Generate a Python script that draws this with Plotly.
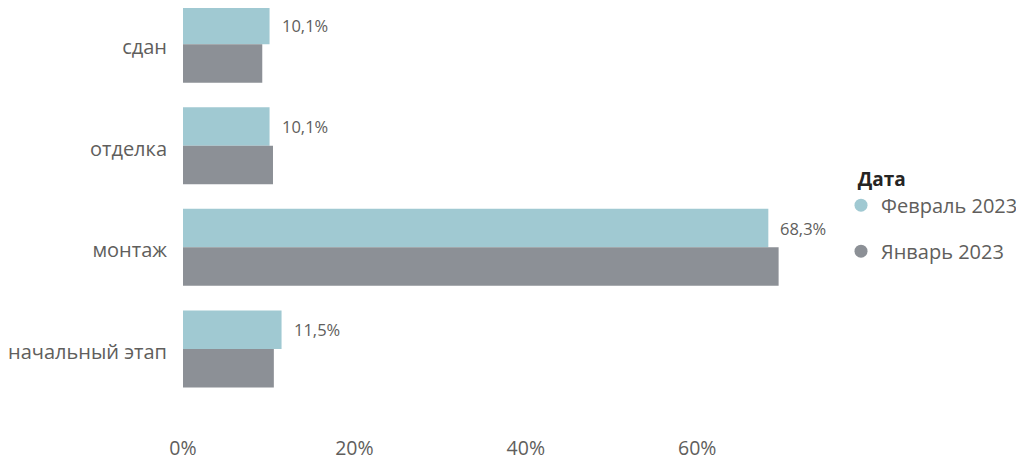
import plotly.graph_objects as go

categories = ["сдан", "отделка", "монтаж", "начальный этап"]
feb_values = [10.1, 10.1, 68.3, 11.5]
jan_values = [9.25, 10.5, 69.5, 10.6]
series_names = ["Февраль 2023", "Январь 2023"]
tick_vals = [0, 20, 40, 60]
tick_text = ["0%", "20%", "40%", "60%"]

feb_color = "#A0C9D2"
jan_color = "#8C9096"
text_color = "#605E5C"
font_family = "Open Sans, Noto Sans, sans-serif"

fig = go.Figure()
fig.add_trace(go.Bar(
    y=categories, x=feb_values, orientation="h", name=series_names[0],
    marker=dict(color=feb_color, line=dict(width=0)), showlegend=False,
))
fig.add_trace(go.Bar(
    y=categories, x=jan_values, orientation="h", name=series_names[1],
    marker=dict(color=jan_color, line=dict(width=0)), showlegend=False,
))
# legend entries with circle markers
for name, col in zip(series_names, [feb_color, jan_color]):
    fig.add_trace(go.Scatter(
        x=[None], y=[None], mode="markers", name=name, legendgroup=name,
        marker=dict(color=col, size=13, symbol="circle"), showlegend=True,
    ))

# data labels for the February series
for cat, v in zip(categories, feb_values):
    fig.add_annotation(
        x=v, y=cat, xref="x", yref="y", xanchor="left", yanchor="middle",
        text=f"{v:.1f}".replace(".", ",") + "%", showarrow=False,
        xshift=10, yshift=19,
        font=dict(size=16.5, color=text_color, family=font_family),
    )

# the page body has an 8px margin: compensate so the plot lands at the target pixels
body = 8
plot_left = 183
plot_right = 800
plot_top = 8
plot_bottom = 432
px_per_unit = 8.57
xmax = (plot_right - plot_left) / px_per_unit
ytop = (plot_top - 44.2) / 101.57
ybot = (plot_bottom - 44.2) / 101.57

fig.update_layout(
    width=1024, height=468,
    margin=dict(l=plot_left - body, r=1024 - (plot_right - body),
                t=plot_top - body, b=468 - (plot_bottom - body)),
    paper_bgcolor="white", plot_bgcolor="white",
    barmode="group", bargap=0.242, bargroupgap=0,
    font=dict(family=font_family, color=text_color, size=18),
    xaxis=dict(range=[0, xmax], tickvals=tick_vals, ticktext=tick_text,
               showgrid=False, zeroline=False, showline=False, automargin=False,
               ticklabelstandoff=2,
               tickfont=dict(size=19.5, color=text_color), ticks=""),
    yaxis=dict(range=[ybot, ytop], showgrid=False, zeroline=False,
               showline=False, ticks="", ticklabelstandoff=15, automargin=False,
               ticklabelshift=-3,
               tickfont=dict(size=20, color=text_color)),
    legend=dict(x=(841 - plot_left) / (plot_right - plot_left), xanchor="left",
                y=1 - (161 - plot_top) / (plot_bottom - plot_top), yanchor="top",
                title=dict(text="\u00a0\u00a0\u00a0<b>Дата</b>",
                           font=dict(size=19, color="#252423")),
                font=dict(size=20, color=text_color),
                tracegroupgap=17, itemwidth=30),
)

fig.write_html("out.html")
